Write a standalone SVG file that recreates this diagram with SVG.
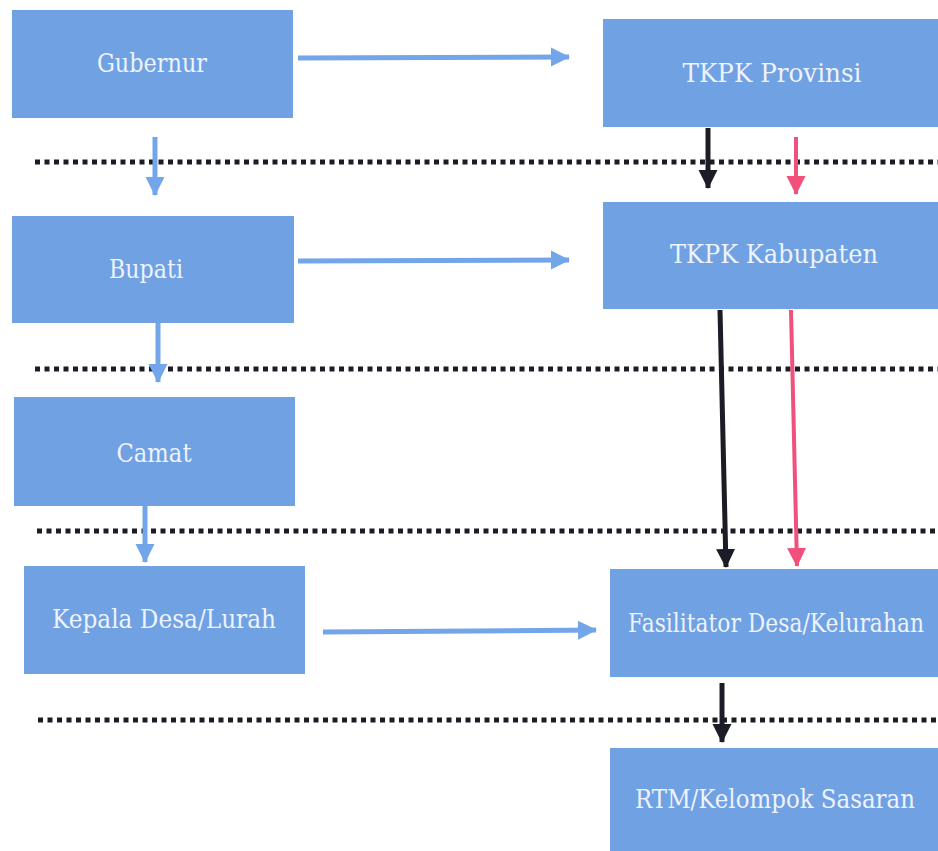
<svg xmlns="http://www.w3.org/2000/svg" width="938" height="851" viewBox="0 0 938 851">
<style>
.box{fill:#6fa1e3}
.lbl{font-family:'DejaVu Serif','Noto Serif','Liberation Serif',serif;font-size:26px;fill:#eef3ff;text-anchor:middle}
.dot{stroke:#1c1c24;stroke-width:5;stroke-dasharray:5 4.5;fill:none}
.ab{stroke:#72a5ea;stroke-width:5;fill:none;marker-end:url(#hb)}
.ak{stroke:#1c1c26;stroke-width:5;fill:none;marker-end:url(#hk)}
.ar{stroke:#f2507c;stroke-width:4;fill:none;marker-end:url(#hr)}
</style>
<defs>
<marker id="hb" markerUnits="userSpaceOnUse" markerWidth="22" markerHeight="22" refX="18" refY="11" orient="auto"><path d="M0,1.5 L19,11 L0,20.5 Z" fill="#72a5ea"/></marker>
<marker id="hk" markerUnits="userSpaceOnUse" markerWidth="22" markerHeight="22" refX="18" refY="11" orient="auto"><path d="M0,1.5 L19,11 L0,20.5 Z" fill="#1c1c26"/></marker>
<marker id="hr" markerUnits="userSpaceOnUse" markerWidth="22" markerHeight="22" refX="18" refY="11" orient="auto"><path d="M0,1.5 L19,11 L0,20.5 Z" fill="#f2507c"/></marker>
</defs>
<rect width="938" height="851" fill="#ffffff"/>
<g id="separators">
<line class="dot" x1="35" y1="162" x2="938" y2="162"/>
<line class="dot" x1="35" y1="369" x2="938" y2="369"/>
<line class="dot" x1="37" y1="531" x2="938" y2="531"/>
<line class="dot" x1="38" y1="720" x2="938" y2="720"/>
</g>
<g id="gubernur"><rect class="box" x="12" y="10" width="281" height="108"/><text class="lbl" x="152" y="72" textLength="110" lengthAdjust="spacingAndGlyphs">Gubernur</text></g>
<g id="tkpk-provinsi"><rect class="box" x="603" y="19" width="335" height="108"/><text class="lbl" x="772" y="82" textLength="179" lengthAdjust="spacingAndGlyphs">TKPK Provinsi</text></g>
<g id="bupati"><rect class="box" x="12" y="216" width="282" height="107"/><text class="lbl" x="146" y="278" textLength="74" lengthAdjust="spacingAndGlyphs">Bupati</text></g>
<g id="tkpk-kabupaten"><rect class="box" x="603" y="202" width="335" height="107"/><text class="lbl" x="774" y="263" textLength="208" lengthAdjust="spacingAndGlyphs">TKPK Kabupaten</text></g>
<g id="camat"><rect class="box" x="14" y="397" width="281" height="109"/><text class="lbl" x="154" y="462" textLength="75" lengthAdjust="spacingAndGlyphs">Camat</text></g>
<g id="kepala-desa"><rect class="box" x="24" y="566" width="281" height="108"/><text class="lbl" x="164" y="628" textLength="224" lengthAdjust="spacingAndGlyphs">Kepala Desa/Lurah</text></g>
<g id="fasilitator"><rect class="box" x="610" y="569" width="328" height="108"/><text class="lbl" x="776" y="632" textLength="296" lengthAdjust="spacingAndGlyphs">Fasilitator Desa/Kelurahan</text></g>
<g id="rtm"><rect class="box" x="610" y="748" width="328" height="103"/><text class="lbl" x="775" y="808" textLength="280" lengthAdjust="spacingAndGlyphs">RTM/Kelompok Sasaran</text></g>
<g id="connectors">
<line class="ab" x1="298" y1="58" x2="569" y2="57"/>
<line class="ab" x1="298" y1="261" x2="569" y2="260"/>
<line class="ab" x1="323" y1="632" x2="596" y2="630"/>
<line class="ab" x1="155" y1="137" x2="155" y2="195"/>
<line class="ab" x1="158" y1="323" x2="158" y2="382"/>
<line class="ab" x1="145" y1="506" x2="145" y2="562"/>
<line class="ak" x1="708" y1="128" x2="708" y2="188"/>
<line class="ar" x1="796" y1="137" x2="796" y2="194"/>
<line class="ak" x1="720" y1="310" x2="726" y2="567"/>
<line class="ar" x1="791" y1="310" x2="797" y2="566"/>
<line class="ak" x1="722" y1="683" x2="722" y2="742"/>
</g>
</svg>
